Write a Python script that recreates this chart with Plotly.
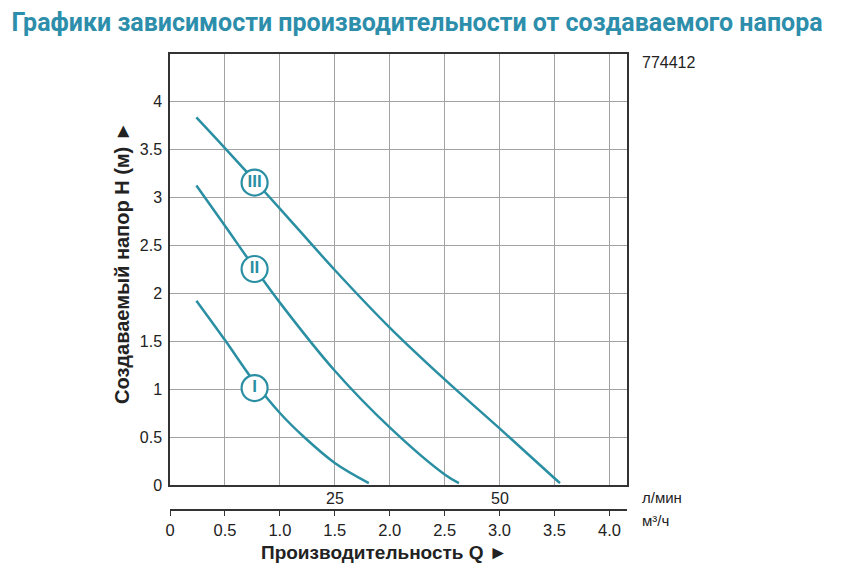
import plotly.graph_objects as go

# ---- data ----
q_I = [0.24, 0.5, 0.77, 1.0, 1.22, 1.5, 1.81]
h_I = [1.92, 1.51, 1.07, 0.75, 0.50, 0.23, 0.02]

q_II = [0.24, 0.5, 0.77, 1.0, 1.5, 2.0, 2.5, 2.63]
h_II = [3.12, 2.70, 2.26, 1.90, 1.19, 0.60, 0.11, 0.02]

q_III = [0.24, 0.5, 0.77, 1.0, 1.5, 2.0, 2.5, 3.0, 3.5, 3.55]
h_III = [3.83, 3.51, 3.17, 2.88, 2.24, 1.64, 1.10, 0.59, 0.07, 0.02]

curve_names = ["I", "II", "III"]
label_q = [0.77, 0.77, 0.77]
label_h = [1.01, 2.25, 3.15]

y_ticks = [0, 0.5, 1, 1.5, 2, 2.5, 3, 3.5, 4]
y_ticktext = ["0", "0.5", "1", "1.5", "2", "2.5", "3", "3.5", "4"]
q_ticks = [0, 0.5, 1.0, 1.5, 2.0, 2.5, 3.0, 3.5, 4.0]
q_ticktext = ["0", "0.5", "1.0", "1.5", "2.0", "2.5", "3.0", "3.5", "4.0"]
lpm_ticks = [25, 50]

title_text = "Графики зависимости производительности от создаваемого напора"
y_title = "Создаваемый напор H (м) \u25ba"
x_title = "Производительность Q \u25ba"
model_text = "774412"
unit_lpm = "л/мин"
unit_m3h = "м³/ч"

# ---- style ----
OFF = 8  # page body margin of the browser
W, H = 843 - OFF, 572 - OFF
ML, MR, MT, MB = 170 - OFF, 216, 54 - OFF, 30
PLOT_BOTTOM = 485  # page px
TEAL = "#2a8fa3"
TITLE_C = "#2d8eab"
GRID = "#a3a3a3"
FRAME = "#333333"
TXT = "#222222"
FONT = "Liberation Sans, Arial, sans-serif"

pw = W - ML - MR
ph = H - MT - MB


def px_x(px):
    return (px - OFF - ML) / pw


def px_y(py):
    return (H - MB - (py - OFF)) / ph


fig = go.Figure()
for q, h in [(q_I, h_I), (q_II, h_II), (q_III, h_III)]:
    fig.add_trace(go.Scatter(x=q, y=h, mode="lines",
                             line=dict(color=TEAL, width=2.5, shape="spline", smoothing=1.0),
                             showlegend=False, hoverinfo="skip"))

fig.add_trace(go.Scatter(x=label_q, y=label_h, mode="markers+text",
                         text=curve_names, textposition="middle center",
                         textfont=dict(family="Liberation Sans, Arial", size=17, color=TEAL,
                                       weight="bold"),
                         marker=dict(size=26, color="white", line=dict(color=TEAL, width=2.2)),
                         showlegend=False, hoverinfo="skip"))

# invisible trace to attach the lower (m3/h) axis
fig.add_trace(go.Scatter(x=[0], y=[0], xaxis="x2", yaxis="y", mode="markers",
                         marker=dict(opacity=0), showlegend=False, hoverinfo="skip"))

x_range = [0, 4.16]
fig.update_layout(
    width=W, height=H,
    margin=dict(l=ML, r=MR, t=MT, b=MB),
    paper_bgcolor="white", plot_bgcolor="white",
    font=dict(family=FONT, color=TXT),
    title=dict(text=title_text, x=(417 - OFF) / W, xanchor="center", xref="container",
               y=1 - (22 - OFF) / H, yanchor="middle", yref="container",
               font=dict(family="Roboto, Liberation Sans, Arial", size=25,
                         color=TITLE_C, weight="bold")),
    xaxis=dict(range=x_range, tickvals=q_ticks[1:], showticklabels=False, ticks="",
               showgrid=True, gridcolor=GRID, gridwidth=1.3, zeroline=False,
               showline=True, linecolor=FRAME, linewidth=1.5, mirror=True),
    yaxis=dict(range=[0, 4.49], domain=[px_y(PLOT_BOTTOM), 1],
               tickvals=y_ticks, ticktext=y_ticktext, ticks="", ticklabelstandoff=3,
               tickfont=dict(size=16, color=TXT),
               showgrid=True, gridcolor=GRID, gridwidth=1.3, zeroline=False,
               showline=True, linecolor=FRAME, linewidth=1.5, mirror=True),
    xaxis2=dict(range=x_range, overlaying="x", anchor="free", position=px_y(510),
                tickvals=q_ticks, ticktext=q_ticktext, ticks="outside", ticklen=5,
                tickcolor=FRAME, tickwidth=1.3, tickfont=dict(size=16.5, color=TXT),
                showgrid=False, zeroline=False, showline=True, linecolor=FRAME,
                linewidth=1.5, side="bottom"),
)

# l/min labels (25 l/min = 1.5 m3/h)
for v in lpm_ticks:
    fig.add_annotation(x=v * 60 / 1000, y=px_y(498), xref="x", yref="paper",
                       text=str(v), showarrow=False, font=dict(size=16, color=TXT),
                       xanchor="center", yanchor="middle")

fig.add_annotation(x=px_x(640), y=px_y(497), xref="paper", yref="paper", text=unit_lpm,
                   showarrow=False, font=dict(size=15, color=TXT), xanchor="left", yanchor="middle")
fig.add_annotation(x=px_x(640), y=px_y(520), xref="paper", yref="paper", text=unit_m3h,
                   showarrow=False, font=dict(size=15, color=TXT), xanchor="left", yanchor="middle")
fig.add_annotation(x=px_x(640), y=px_y(62), xref="paper", yref="paper", text=model_text,
                   showarrow=False, font=dict(size=16, color=TXT), xanchor="left", yanchor="middle")

fig.add_annotation(x=px_x(384), y=px_y(552), xref="paper", yref="paper", text=x_title,
                   showarrow=False, font=dict(size=19, color=TXT, weight="bold"),
                   xanchor="center", yanchor="middle")
fig.add_annotation(x=px_x(122), y=px_y(263), xref="paper", yref="paper", text=y_title,
                   textangle=-90, showarrow=False, font=dict(size=20, color=TXT, weight="bold"),
                   xanchor="center", yanchor="middle")

fig.write_html("out.html")
